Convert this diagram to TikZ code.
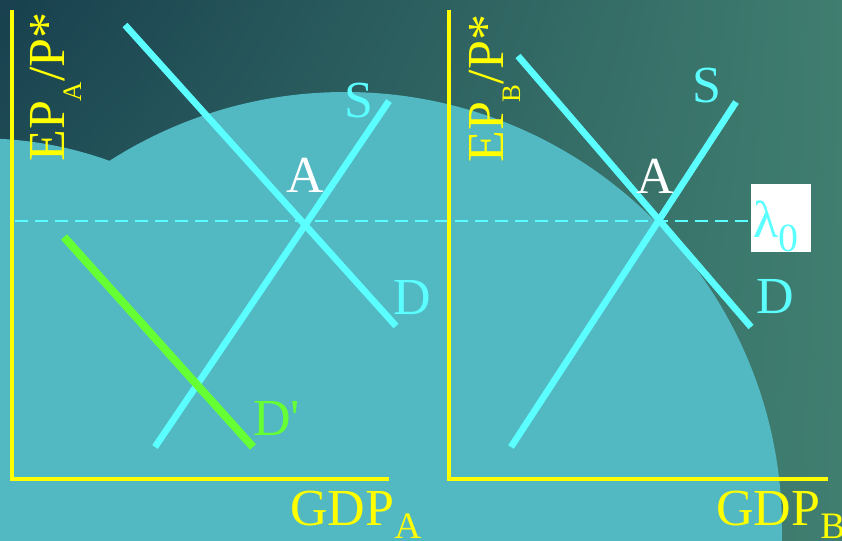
\documentclass[tikz,border=0pt]{standalone}
\usepackage{fontspec}
\setmainfont{Liberation Serif}
\usetikzlibrary{shadings}
\definecolor{bgdark}{RGB}{24,64,78}
\definecolor{bgmid}{RGB}{44,100,100}
\definecolor{bggreen}{RGB}{64,126,112}
\definecolor{blob}{RGB}{82,184,194}
\definecolor{cyanline}{RGB}{92,255,255}
\definecolor{axisyellow}{RGB}{255,255,0}
\definecolor{shiftgreen}{RGB}{102,255,51}
\newcommand{\lowsub}[3]{\raisebox{-#1}{\fontsize{#2}{#2}\selectfont #3}}

\begin{document}
\begin{tikzpicture}[x=0.75pt,y=0.75pt,yscale=-1,xscale=1,
  axis/.style={color=axisyellow,line width=3pt},
  curve/.style={color=cyanline,line width=5pt},
  lbl/.style={inner sep=0pt,font=\fontsize{39}{39}\selectfont}]
\useasboundingbox (0,0) rectangle (842,540);

%Background
\shade[upper left=bgdark, upper right=bggreen, lower left=bgmid, lower right=bggreen] (0,0) rectangle (842,540);
%Shape: Circles
\fill[blob] (345,529) circle (437);
\fill[blob] (-20,520) circle (381.7);

%Coordinates
\coordinate (dashL) at (15,221);
\coordinate (yA) at (12,10);
\coordinate (oA) at (12,479);
\coordinate (xA) at (389,479);
\coordinate (yB) at (449,10);
\coordinate (oB) at (449,479);
\coordinate (xB) at (828,479);
\coordinate (dAt) at (125,25);
\coordinate (dAb) at (396,326);
\coordinate (sAb) at (155,447);
\coordinate (sAt) at (389,101);
\coordinate (dpt) at (64,237);
\coordinate (dpb) at (253,447);
\coordinate (dBt) at (518,56);
\coordinate (dBb) at (751,327);
\coordinate (sBb) at (511,447);
\coordinate (sBt) at (736,102);

% Text Node
\node (lam) [anchor=north west, fill=white, inner xsep=1.5pt, inner ysep=0pt, text width=42pt, text height=40pt, text depth=10.5pt, font=\fontsize{39}{39}\selectfont, text=cyanline] at (751,184) {λ\lowsub{10.5pt}{30}{0}};

%Straight Lines
\draw [color=cyanline, line width=1.5pt, dash pattern={on 9.75pt off 5.25pt}] (dashL) -- (dashL -| lam.west);
\draw [curve] (dAt) -- (dAb);
\draw [curve] (sAb) -- (sAt);
\draw [curve] (dBt) -- (dBb);
\draw [curve] (sBb) -- (sBt);
\draw [color=shiftgreen, line width=6pt] (dpt) -- (dpb);
\draw [axis] (yA) -- (oA) -- (xA);
\draw [axis] (yB) -- (oB) -- (xB);

% Text Node
\node (ylabA) [lbl, rotate=90, anchor=base west, text=axisyellow] at (64,162) {EP\lowsub{12.75pt}{20}{A}/P*};
% Text Node
\node (ylabB) [lbl, rotate=90, anchor=base west, text=axisyellow] at (503,163) {EP\lowsub{12.75pt}{20}{B}/P*};
% Text Node
\node (xlabA) [lbl, anchor=base west, text=axisyellow] at (290,525) {GDP\lowsub{10pt}{28}{A}};
% Text Node
\node (xlabB) [lbl, anchor=base west, text=axisyellow] at (716,525) {GDP\lowsub{10pt}{28}{B}};
% Text Node
\node (ptA) [lbl, anchor=base, text=white] at (305,192) {A};
% Text Node
\node (ptB) [lbl, anchor=base, text=white] at (655,193) {A};
% Text Node
\node (labSA) [lbl, anchor=base, text=cyanline] at (359,117) {S};
% Text Node
\node (labSB) [lbl, anchor=base, text=cyanline] at (707,102) {S};
% Text Node
\node (labDA) [lbl, anchor=base, text=cyanline] at (412,314) {D};
% Text Node
\node (labDB) [lbl, anchor=base, text=cyanline] at (775,313) {D};
% Text Node
\node (labDp) [lbl, anchor=base west, text=shiftgreen] at (253,435) {D\textquotesingle};

\end{tikzpicture}
\end{document}
